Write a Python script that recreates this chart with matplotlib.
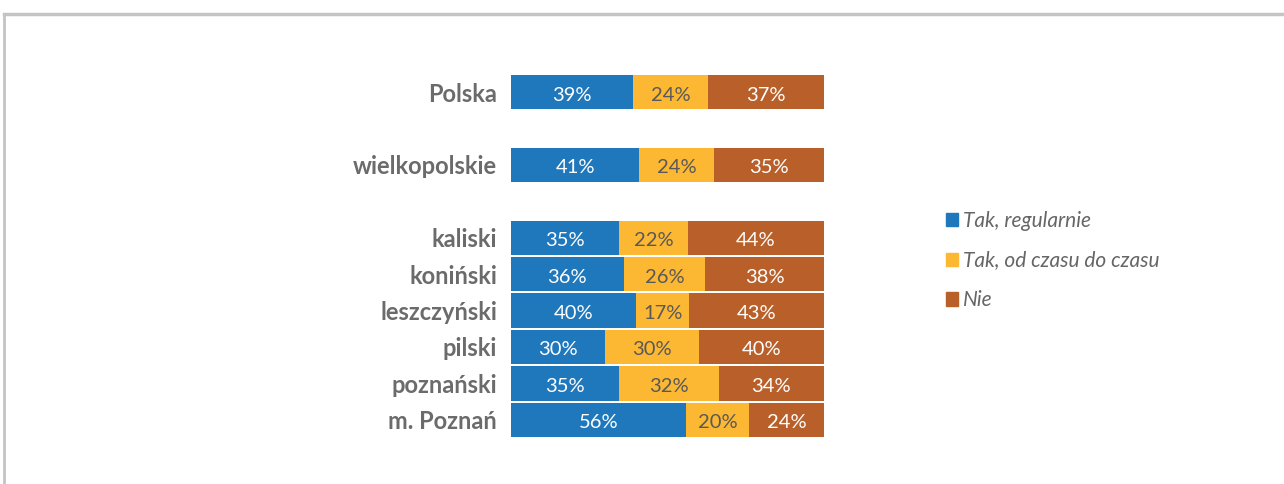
import matplotlib.pyplot as plt
import matplotlib.patches as mpatches
import numpy as np

kategorie = ["Polska", "wielkopolskie", "kaliski", "koniński", "leszczyński",
             "pilski", "poznański", "m. Poznań"]
pozycje = [0, 2, 4, 5, 6, 7, 8, 9]
tak_regularnie = [39, 41, 35, 36, 40, 30, 35, 56]
tak_czasem = [24, 24, 22, 26, 17, 30, 32, 20]
nie = [37, 35, 44, 38, 43, 40, 34, 24]
serie = ["Tak, regularnie", "Tak, od czasu do czasu", "Nie"]

kolory = ["#1f77bc", "#fcb733", "#b9602a"]
kolory_tekstu = ["white", "#595959", "white"]

plt.rcParams['font.family'] = ['Lato', 'DejaVu Sans']

fig = plt.figure(figsize=(12.84, 4.84), dpi=100)
ax = fig.add_axes([511/1284, 1-438/484, (824-511)/1284, (438-74)/484])

dane = np.array([tak_regularnie, tak_czasem, nie], dtype=float)
suma = dane.sum(axis=0)
udzialy = dane / suma * 100

lewo = np.zeros(len(kategorie))
for i in range(3):
    ax.barh(pozycje, udzialy[i], left=lewo, height=0.94, color=kolory[i])
    for p, l, w, v in zip(pozycje, lewo, udzialy[i], dane[i]):
        ax.text(l + w/2, p + 0.08, f"{int(v)}%", ha="center", va="center",
                color=kolory_tekstu[i], fontsize=14.5)
    lewo += udzialy[i]

ax.set_xlim(0, 100)
ax.set_ylim(9.5, -0.5)
ax.set_yticks(pozycje)
ax.set_yticklabels(kategorie, fontsize=17, fontweight="bold", color="#6b6b6b")
ax.tick_params(axis="y", length=0, pad=10)
ax.set_xticks([])
for s in ax.spines.values():
    s.set_visible(False)

uchwyty = [mpatches.Patch(color=c, label=n) for c, n in zip(kolory, serie)]
leg = fig.legend(handles=uchwyty, loc="upper left", bbox_to_anchor=(927/1284, 1-192/484),
                 frameon=False, handlelength=0.6, handleheight=0.6, handletextpad=0.25,
                 labelspacing=0.95, prop={"size": 15, "style": "italic"})
for t in leg.get_texts():
    t.set_color("#666666")

# ramka
fig.add_artist(plt.Line2D([4/1284, 1], [1-14/484, 1-14/484], color="#c4c4c4", lw=2.5))
fig.add_artist(plt.Line2D([4/1284, 4/1284], [0, 1-14/484], color="#c4c4c4", lw=2))

fig.savefig("out.png", dpi=100)
